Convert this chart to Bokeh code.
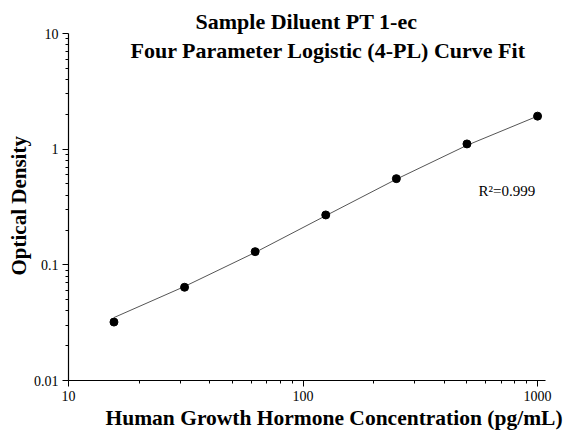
from bokeh.plotting import figure
from bokeh.models import Label, FixedTicker, Title
from bokeh.embed import file_html
from bokeh.resources import INLINE

# data
conc = [15.625, 31.25, 62.5, 125, 250, 500, 1000]
od = [0.032, 0.064, 0.130, 0.270, 0.556, 1.11, 1.93]
# fitted curve
curve_conc = [15.625, 31.25, 62.5, 125, 250, 500, 1000]
curve_od = [0.035, 0.065, 0.128, 0.266, 0.55, 1.08, 1.93]
x_ticks = [10, 100, 1000]
y_ticks = [0.01, 0.1, 1, 10]
x_tick_labels = {10: "10", 100: "100", 1000: "1000"}
y_tick_labels = {0.01: "0.01", 0.1: "0.1", 1: "1", 10: "10"}

SERIF = "Liberation Serif"

p = figure(width=565, height=432, x_axis_type="log", y_axis_type="log",
           x_range=(10, 1081), y_range=(0.01, 10),
           output_backend="svg", toolbar_location=None,
           min_border_left=68, min_border_right=20,
           min_border_top=33, min_border_bottom=52)
p.outline_line_color = None
p.xgrid.visible = False
p.ygrid.visible = False
p.background_fill_color = "white"

p.line(curve_conc, curve_od, line_color="#555555", line_width=1)
p.scatter(conc, od, size=8, color="black")

def minors(decades):
    out = []
    for d in decades:
        for k in range(2, 10):
            out.append(k * d)
    return out

p.xaxis.ticker = FixedTicker(ticks=x_ticks, minor_ticks=minors([10, 100, 1000]))
p.yaxis.ticker = FixedTicker(ticks=y_ticks, minor_ticks=minors([0.01, 0.1, 1]))
p.xaxis.major_label_overrides = x_tick_labels
p.yaxis.major_label_overrides = y_tick_labels

for ax in (p.xaxis, p.yaxis):
    ax.axis_line_color = "black"
    ax.axis_line_width = 1.2
    ax.major_tick_line_color = "black"
    ax.minor_tick_line_color = "black"
    ax.major_tick_out = 6
    ax.major_tick_in = 0
    ax.minor_tick_out = 3
    ax.minor_tick_in = 0
    ax.major_label_text_font = SERIF
    ax.major_label_text_font_size = "14px"
    ax.major_label_text_color = "black"
    ax.major_label_standoff = 4

def mk_title(text, offset, size):
    return Title(text=text, align="left", offset=offset, standoff=0,
                 text_font=SERIF, text_font_size=size, text_font_style="bold",
                 text_color="black")

p.add_layout(mk_title("Sample Diluent PT 1-ec", 127, "22px"), "above")
p.add_layout(mk_title("Human Growth Hormone Concentration (pg/mL)", 37, "21.5px"), "below")
p.add_layout(mk_title("Optical Density", 105, "21px"), "left")

# helpers to convert reference pixel positions to data positions
def dx(px):
    return 10 ** (1 + (px - 68) / 234.5)

def dy(py):
    return 10 ** (-2 + (380 - py) / 115.7)

p.add_layout(Label(x=dx(130), y=dy(50), text="Four Parameter Logistic (4-PL) Curve Fit",
                   text_align="left", text_baseline="alphabetic",
                   text_font=SERIF, text_font_size="22px", text_font_style="bold",
                   text_color="black"))
p.add_layout(Label(x=dx(478), y=dy(190), text="R\u00b2=0.999",
                   text_align="left", text_baseline="alphabetic",
                   text_font=SERIF, text_font_size="15px",
                   text_color="black"))

open("out.html", "w").write(file_html(p, INLINE))
